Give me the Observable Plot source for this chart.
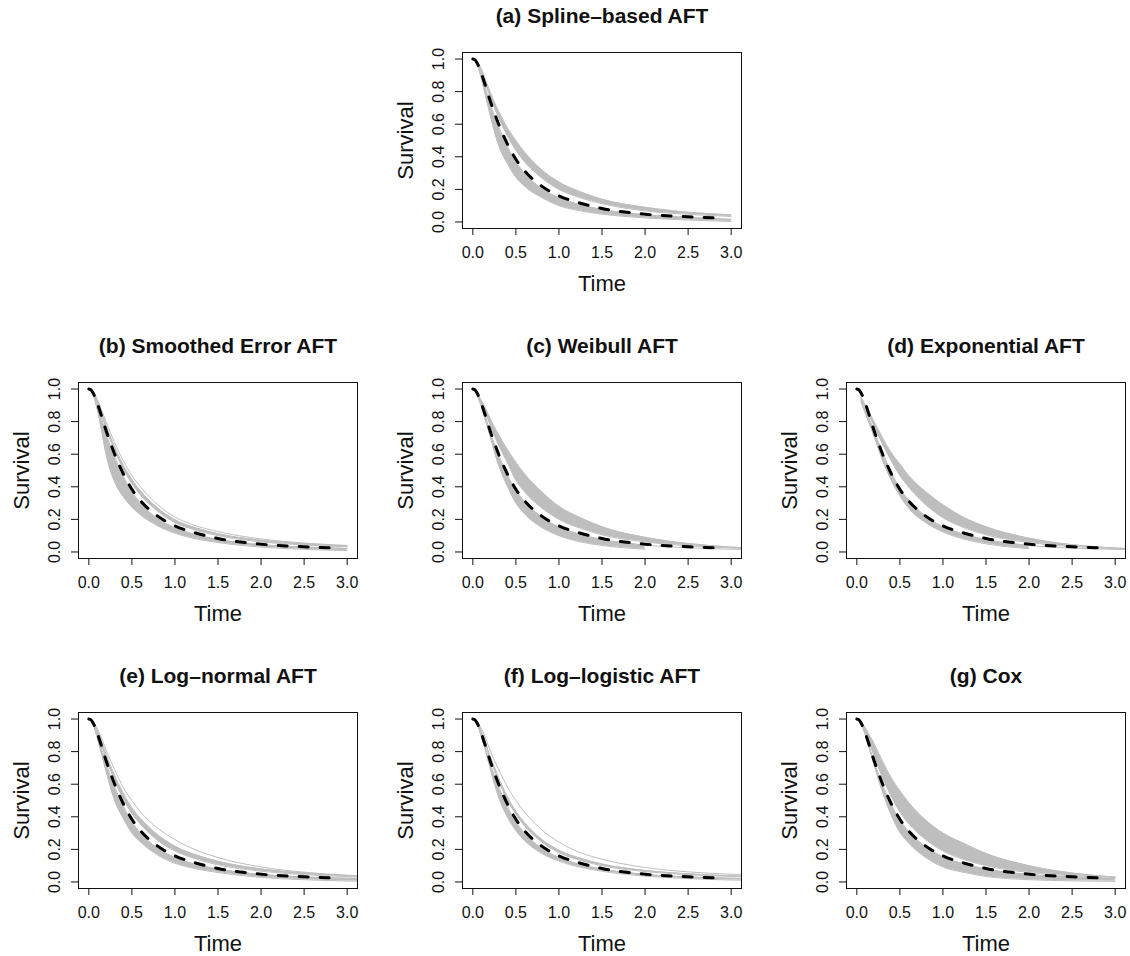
<!DOCTYPE html>
<html>
<head>
<meta charset="utf-8">
<script src="https://cdn.jsdelivr.net/npm/d3@7"></script>
<script src="https://cdn.jsdelivr.net/npm/@observablehq/plot@0.6"></script>
<style>
  body { margin: 0; background: #fff; }
  #fig { position: relative; width: 1130px; height: 956px; overflow: hidden; background: #fff; }
  #fig > div { position: absolute; width: 384px; height: 296px; }
  #fig svg { max-width: none; }
</style>
</head>
<body>
<div id="fig"></div>
<script>
// Shared time grid for the simulated survival curves
const timeGrid = [0.05, 0.1, 0.15, 0.2, 0.3, 0.4, 0.5, 0.6, 0.8, 1.0, 1.25, 1.5, 2.0, 2.5, 3.0, 3.3];

// True survival curve (dashed)
const trueTime = [0, 0.025, 0.05, 0.1, 0.15, 0.2, 0.3, 0.4, 0.5, 0.6, 0.8, 1.0, 1.25, 1.5, 2.0, 2.5, 2.85];
const trueSurv = [1, 0.995, 0.975, 0.91, 0.83, 0.745, 0.6, 0.48, 0.385, 0.315, 0.22, 0.16, 0.115, 0.083, 0.048, 0.032, 0.024];

// Axis ticks
const xTicks = [0, 0.5, 1.0, 1.5, 2.0, 2.5, 3.0];
const yTicks = [0, 0.2, 0.4, 0.6, 0.8, 1.0];

// (a) Spline-based AFT: edges of the lower and upper groups of estimated curves
const splineLo    = [0.97, 0.88, 0.77, 0.66, 0.47, 0.36, 0.275, 0.22, 0.15, 0.10, 0.068, 0.048, 0.025, 0.012, 0.003];
const splineLoTop = [0.975, 0.9, 0.815, 0.73, 0.585, 0.465, 0.37, 0.3, 0.205, 0.148, 0.105, 0.077, 0.045, 0.028, 0.016];
const splineHiBot = [0.98, 0.92, 0.845, 0.77, 0.64, 0.53, 0.44, 0.37, 0.27, 0.2, 0.148, 0.112, 0.068, 0.047, 0.034];
const splineHiTop = [0.985, 0.94, 0.87, 0.8, 0.68, 0.58, 0.5, 0.43, 0.32, 0.245, 0.185, 0.14, 0.09, 0.06, 0.044];

// (b) Smoothed Error AFT
const smoothLo    = [0.97, 0.87, 0.74, 0.6, 0.43, 0.34, 0.275, 0.228, 0.16, 0.115, 0.08, 0.058, 0.03, 0.016, 0.008];
const smoothLoTop = [0.975, 0.9, 0.815, 0.73, 0.585, 0.465, 0.37, 0.3, 0.205, 0.148, 0.105, 0.077, 0.045, 0.03, 0.022];
const smoothHiBot = [0.98, 0.915, 0.84, 0.76, 0.625, 0.51, 0.42, 0.35, 0.25, 0.18, 0.132, 0.1, 0.062, 0.043, 0.032];
const smoothHiTop = [0.98, 0.925, 0.855, 0.78, 0.645, 0.535, 0.445, 0.375, 0.27, 0.198, 0.147, 0.112, 0.072, 0.05, 0.036];
const smoothOuter = [0.985, 0.935, 0.87, 0.8, 0.67, 0.56, 0.47, 0.4, 0.29, 0.215, 0.16, 0.125, 0.08, 0.055, 0.04];

// (c) Weibull AFT
const weibullLo    = [0.96, 0.89, 0.8, 0.71, 0.53, 0.405, 0.3, 0.235, 0.15, 0.1, 0.062, 0.04, 0.017];
const weibullLoTop = [0.965, 0.905, 0.825, 0.74, 0.595, 0.475, 0.38, 0.31, 0.215, 0.153, 0.108, 0.077, 0.042, 0.026, 0.017, 0.013];
const weibullHiBot = [0.97, 0.915, 0.85, 0.78, 0.655, 0.55, 0.44, 0.37, 0.27, 0.2, 0.145, 0.105, 0.062, 0.038, 0.024, 0.018];
const weibullHiTop = [0.975, 0.93, 0.88, 0.82, 0.72, 0.63, 0.55, 0.48, 0.37, 0.28, 0.21, 0.155, 0.09, 0.052, 0.03, 0.022];

// (d) Exponential AFT
const expLo    = [0.92, 0.85, 0.78, 0.71, 0.56, 0.44, 0.345, 0.27, 0.18, 0.123, 0.078, 0.05, 0.02];
const expLoTop = [0.93, 0.87, 0.81, 0.745, 0.61, 0.49, 0.39, 0.32, 0.22, 0.155, 0.108, 0.076, 0.04, 0.024, 0.016, 0.012];
const expHiBot = [0.935, 0.885, 0.83, 0.775, 0.66, 0.56, 0.47, 0.4, 0.29, 0.21, 0.148, 0.105, 0.058, 0.034, 0.021, 0.016];
const expHiTop = [0.95, 0.9, 0.85, 0.8, 0.7, 0.61, 0.54, 0.47, 0.37, 0.29, 0.21, 0.155, 0.085, 0.045, 0.025, 0.018];

// (e) Log-normal AFT
const lnormLo    = [0.97, 0.88, 0.78, 0.68, 0.5, 0.39, 0.3, 0.245, 0.165, 0.115, 0.08, 0.058, 0.028, 0.014, 0.006, 0.004];
const lnormLoTop = [0.975, 0.9, 0.815, 0.73, 0.585, 0.465, 0.37, 0.3, 0.207, 0.15, 0.107, 0.079, 0.046, 0.031, 0.023, 0.02];
const lnormHiBot = [0.98, 0.915, 0.84, 0.76, 0.625, 0.51, 0.42, 0.355, 0.255, 0.19, 0.14, 0.105, 0.066, 0.045, 0.033, 0.028];
const lnormHiTop = [0.98, 0.93, 0.86, 0.785, 0.655, 0.545, 0.455, 0.39, 0.29, 0.22, 0.165, 0.127, 0.08, 0.055, 0.038, 0.032];
const lnormOuter = [0.985, 0.94, 0.88, 0.81, 0.69, 0.58, 0.5, 0.43, 0.33, 0.26, 0.195, 0.15, 0.092, 0.06, 0.042, 0.035];

// (f) Log-logistic AFT
const llogLo    = [0.97, 0.89, 0.8, 0.7, 0.52, 0.4, 0.315, 0.255, 0.175, 0.128, 0.09, 0.066, 0.036, 0.021, 0.012, 0.01];
const llogLoTop = [0.975, 0.9, 0.815, 0.73, 0.585, 0.465, 0.37, 0.3, 0.207, 0.15, 0.107, 0.079, 0.046, 0.031, 0.023, 0.02];
const llogHiBot = [0.98, 0.915, 0.84, 0.76, 0.62, 0.505, 0.415, 0.345, 0.245, 0.18, 0.132, 0.1, 0.064, 0.045, 0.034, 0.03];
const llogHiTop = [0.98, 0.925, 0.85, 0.775, 0.64, 0.525, 0.435, 0.365, 0.262, 0.195, 0.145, 0.11, 0.071, 0.05, 0.038, 0.034];
const llogOuter = [0.985, 0.94, 0.88, 0.81, 0.69, 0.585, 0.5, 0.43, 0.32, 0.245, 0.18, 0.14, 0.089, 0.062, 0.048, 0.044];

// (g) Cox
const coxLo    = [0.97, 0.9, 0.81, 0.72, 0.55, 0.41, 0.305, 0.24, 0.15, 0.092, 0.058, 0.034, 0.014, 0.007, 0.004];
const coxLoTop = [0.975, 0.905, 0.825, 0.74, 0.595, 0.475, 0.38, 0.31, 0.215, 0.155, 0.11, 0.08, 0.046, 0.03, 0.022];
const coxHiBot = [0.98, 0.92, 0.85, 0.775, 0.64, 0.525, 0.43, 0.36, 0.26, 0.19, 0.137, 0.1, 0.058, 0.038, 0.028];
const coxHiTop = [0.985, 0.945, 0.9, 0.85, 0.74, 0.64, 0.56, 0.49, 0.38, 0.3, 0.235, 0.175, 0.1, 0.055, 0.03];

const panels = [
  {title: "(a) Spline–based AFT", row: 0, col: 1,
   bands: [[splineLo, splineLoTop], [splineHiBot, splineHiTop]], extra: []},
  {title: "(b) Smoothed Error AFT", row: 1, col: 0,
   bands: [[smoothLo, smoothLoTop], [smoothHiBot, smoothHiTop]], extra: [smoothOuter]},
  {title: "(c) Weibull AFT", row: 1, col: 1,
   bands: [[weibullLo, weibullLoTop], [weibullHiBot, weibullHiTop]], extra: []},
  {title: "(d) Exponential AFT", row: 1, col: 2,
   bands: [[expLo, expLoTop], [expHiBot, expHiTop]], extra: []},
  {title: "(e) Log–normal AFT", row: 2, col: 0,
   bands: [[lnormLo, lnormLoTop], [lnormHiBot, lnormHiTop]], extra: [lnormOuter]},
  {title: "(f) Log–logistic AFT", row: 2, col: 1,
   bands: [[llogLo, llogLoTop], [llogHiBot, llogHiTop]], extra: [llogOuter]},
  {title: "(g) Cox", row: 2, col: 2,
   bands: [[coxLo, coxLoTop], [coxHiBot, coxHiTop]], extra: []}
];

const GREY = "#bebebe";
const FONT = "'Liberation Sans', Arial, Helvetica, sans-serif";
const truth = trueTime.map((t, i) => ({t, s: trueSurv[i]}));

function curveRows(values) {
  return values.map((s, i) => ({t: timeGrid[i], s}));
}
function bandRows(lo, hi) {
  const n = Math.min(lo.length, hi.length);
  return d3.range(n).map(i => ({t: timeGrid[i], lo: lo[i], hi: hi[i]}));
}

const fig = document.getElementById("fig");

for (const p of panels) {
  const edges = p.bands.flat().concat(p.extra);
  const chart = Plot.plot({
    width: 384,
    height: 296,
    marginLeft: 78,
    marginRight: 27,
    marginTop: 52,
    marginBottom: 68,
    style: {fontFamily: FONT, fontSize: "16px", color: "#111", background: "white", overflow: "visible"},
    x: {domain: [-0.12, 3.12], ticks: xTicks, tickSize: 7, tickPadding: 11, tickFormat: d3.format(".1f"), label: null},
    y: {domain: [-0.04, 1.04], ticks: yTicks, tickSize: 7, tickFormat: () => "", label: null},
    marks: [
      ...p.bands.map(([lo, hi]) => Plot.areaY(bandRows(lo, hi), {
        x: "t", y1: "lo", y2: "hi", fill: GREY, curve: "monotone-x", clip: true
      })),
      ...edges.map(values => Plot.line(curveRows(values), {
        x: "t", y: "s", stroke: GREY, strokeWidth: 1, curve: "monotone-x", clip: true
      })),
      Plot.line(truth, {
        x: "t", y: "s", stroke: "black", strokeWidth: 3, strokeDasharray: "9,12", curve: "monotone-x"
      }),
      Plot.frame({stroke: "#111", strokeWidth: 1}),
      Plot.text(yTicks, {
        y: d => d, frameAnchor: "left", text: d => d3.format(".1f")(d),
        rotate: -90, dx: -19, lineAnchor: "bottom", textAnchor: "middle", fontSize: 16
      }),
      Plot.text(["Survival"], {
        frameAnchor: "left", rotate: -90, dx: -50, lineAnchor: "bottom", textAnchor: "middle", fontSize: 22
      }),
      Plot.text(["Time"], {
        frameAnchor: "bottom", dy: 62, lineAnchor: "bottom", textAnchor: "middle", fontSize: 22
      }),
      Plot.text([p.title], {
        frameAnchor: "top", dy: -30, lineAnchor: "bottom", textAnchor: "middle",
        fontSize: 21, fontWeight: "bold"
      })
    ]
  });
  const holder = document.createElement("div");
  holder.style.left = (p.col * 384) + "px";
  holder.style.top = (p.row * 330) + "px";
  holder.appendChild(chart);
  fig.appendChild(holder);
}
</script>
</body>
</html>
